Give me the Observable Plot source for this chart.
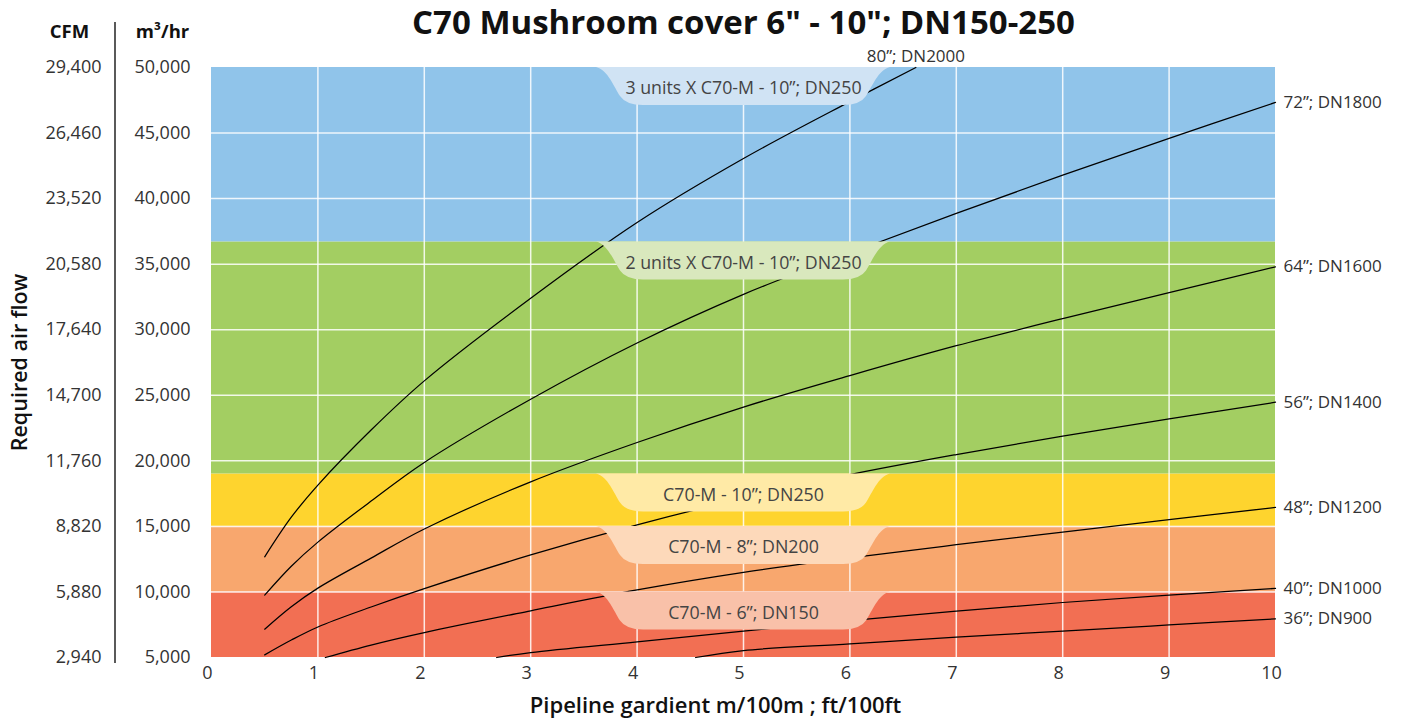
<!DOCTYPE html>
<html><head><meta charset="utf-8">
<script src="https://cdn.jsdelivr.net/npm/d3@7"></script>
<script src="https://cdn.jsdelivr.net/npm/@observablehq/plot@0.6"></script>
<style>body{margin:0;background:#fff;}</style>
</head><body><div id="chart"></div>
<script>
// ---- data ----
const title = 'C70 Mushroom cover 6" - 10"; DN150-250';
const xTitle = "Pipeline gardient m/100m ; ft/100ft";
const yTitle = "Required air flow";
const xTicks = [0,1,2,3,4,5,6,7,8,9,10];
const m3Ticks = [5000,10000,15000,20000,25000,30000,35000,40000,45000,50000];
const m3Labels = ["5,000","10,000","15,000","20,000","25,000","30,000","35,000","40,000","45,000","50,000"];
const cfmLabels = ["2,940","5,880","8,820","11,760","14,700","17,640","20,580","23,520","26,460","29,400"];
const gridX = [1,2,3,4,5,6,7,8,9];
const gridY = [10000,15000,20000,25000,30000,35000,40000,45000];

const bandLow   = [5000, 10000, 15000, 19000, 36700];
const bandHigh  = [10000, 15000, 19000, 36700, 50000];
const bandColor = ["#f26f53", "#f8a76e", "#fed42e", "#a3ce62", "#90c4ea"];
const tabLabels = ["C70-M - 6”; DN150", "C70-M - 8”; DN200", "C70-M - 10”; DN250",
                   "2 units X C70-M - 10”; DN250", "3 units X C70-M - 10”; DN250"];
const tabColor  = ["#f9c1a9", "#fdd9ba", "#ffeaa6", "#d9e8bd", "#d0e3f4"];
const tabX = 5;

const pipeNames = ["80”; DN2000","72”; DN1800","64”; DN1600","56”; DN1400","48”; DN1200","40”; DN1000","36”; DN900"];
const p80x = [0.5, 0.75, 1, 1.5, 2, 3, 4, 5, 6, 6.62];
const p80y = [12680, 15700, 18150, 22350, 26100, 32400, 38180, 43060, 47400, 50000];
const p72x = [0.5, 0.75, 1, 1.5, 2, 3, 4, 5, 6, 7, 8, 9, 10];
const p72y = [9760, 11960, 13800, 16930, 19880, 24700, 28990, 32700, 35850, 38870, 41790, 44590, 47340];
const p64x = [0.5, 0.75, 1, 1.5, 2, 3, 4, 5, 6, 7, 8, 9, 10];
const p64y = [7160, 8870, 10290, 12580, 14800, 18400, 21400, 24100, 26500, 28780, 30850, 32830, 34800];
const p56x = [0.5, 0.75, 1, 1.5, 2, 3, 4, 5, 6, 7, 8, 9, 10];
const p56y = [5200, 6330, 7330, 8850, 10250, 12820, 15120, 17150, 18950, 20480, 21880, 23200, 24470];
const p48x = [1.07, 1.5, 2, 3, 4, 5, 6, 7, 8, 9, 10];
const p48y = [5000, 5950, 6900, 8560, 10150, 11490, 12600, 13600, 14560, 15510, 16450];
const p40x = [2.68, 3, 4, 5, 6, 7, 8, 9, 10];
const p40y = [5000, 5380, 6200, 7010, 7810, 8540, 9195, 9755, 10270];
const p36x = [4.55, 5, 6, 7, 8, 9, 10];
const p36y = [5000, 5530, 6040, 6550, 7010, 7480, 7950];

// ---- build tables ----
const seriesX = [p80x,p72x,p64x,p56x,p48x,p40x,p36x];
const seriesY = [p80y,p72y,p64y,p56y,p48y,p40y,p36y];
const lines = [];
seriesX.forEach((xs,i)=> xs.forEach((x,j)=> lines.push({name: pipeNames[i], x, y: seriesY[i][j]})));
const ends = seriesX.map((xs,i)=>({name: pipeNames[i], x: xs[xs.length-1], y: seriesY[i][seriesY[i].length-1]}));
const bands = bandLow.map((lo,i)=>({lo, hi: bandHigh[i], color: bandColor[i]}));
const tabs = bandHigh.map((hi,i)=>({top: hi, label: tabLabels[i], color: tabColor[i]}));
const yTickData = m3Ticks.map((v,i)=>({v, m3: m3Labels[i], cfm: cfmLabels[i]}));

const FONT = "'Open Sans', sans-serif";
const TXT = "#333";

// tab shapes (decorative label backgrounds), anchored through the scales
function tabMark(index, scales) {
  const g = d3.create("svg:g");
  for (const t of tabs) {
    const cx = scales.x(tabX), ty = scales.y(t.top), h = 38;
    const p = d3.path();
    p.moveTo(cx-147, ty);
    p.bezierCurveTo(cx-135, ty+3, cx-129, ty+20, cx-123, ty+29);
    p.quadraticCurveTo(cx-117, ty+h, cx-100, ty+h);
    p.lineTo(cx+100, ty+h);
    p.quadraticCurveTo(cx+117, ty+h, cx+123, ty+29);
    p.bezierCurveTo(cx+129, ty+20, cx+135, ty+3, cx+147, ty);
    p.closePath();
    g.append("path").attr("d", p.toString()).attr("fill", t.color);
  }
  return g.node();
}
// separator rule between the CFM and m3/hr columns
function separatorMark(index, scales, values, dims) {
  const x = dims.marginLeft - 96;
  return d3.create("svg:line").attr("x1", x).attr("x2", x)
    .attr("y1", dims.marginTop - 45).attr("y2", dims.height - dims.marginBottom + 6)
    .attr("stroke", "#000").attr("stroke-width", 1.3).node();
}

const chart = Plot.plot({
  width: 1405, height: 722,
  marginTop: 67, marginBottom: 65, marginLeft: 211, marginRight: 130,
  style: {fontFamily: FONT, background: "#fff"},
  x: {domain: [0, 10], axis: null},
  y: {domain: [5000, 50000], axis: null},
  marks: [
    Plot.rect(bands, {x1: 0, x2: 10, y1: "lo", y2: "hi", fill: "color"}),
    Plot.ruleX(gridX, {stroke: "#fff", strokeOpacity: 0.85, strokeWidth: 1.5}),
    Plot.ruleY(gridY, {stroke: "#fff", strokeOpacity: 0.85, strokeWidth: 1.5}),
    Plot.line(lines, {x: "x", y: "y", z: "name", stroke: "#000", strokeWidth: 1.25, curve: "catmull-rom"}),
    tabMark,
    Plot.text(tabs, {x: tabX, y: "top", text: "label", dy: 21, fill: "#444", fontSize: 17.8, lineAnchor: "middle"}),
    Plot.text(ends.slice(1), {x: "x", y: "y", text: "name", dx: 8, textAnchor: "start", fill: TXT, fontSize: 17, lineAnchor: "middle"}),
    Plot.text(ends.slice(0,1), {x: "x", y: "y", text: "name", dy: -11, textAnchor: "middle", fill: TXT, fontSize: 17, lineAnchor: "middle"}),
    // x tick labels
    Plot.text(xTicks, {x: d => d, frameAnchor: "bottom", dy: 16, dx: -4, text: d => String(d), fill: TXT, fontSize: 18, lineAnchor: "middle"}),
    // y tick labels (m3/hr and CFM)
    Plot.text(yTickData, {y: "v", frameAnchor: "left", dx: -21, textAnchor: "end", text: "m3", fill: TXT, fontSize: 18, lineAnchor: "middle"}),
    Plot.text(yTickData, {y: "v", frameAnchor: "left", dx: -110, textAnchor: "end", text: "cfm", fill: TXT, fontSize: 18, lineAnchor: "middle"}),
    separatorMark,
    // column headers
    Plot.text(["CFM"], {frameAnchor: "top-left", dx: -142, dy: -35, text: d => d, textAnchor: "middle", lineAnchor: "middle", fontWeight: "bold", fontSize: 18.5, fill: "#111"}),
    Plot.text(["m³/hr"], {frameAnchor: "top-left", dx: -49, dy: -35, text: d => d, textAnchor: "middle", lineAnchor: "middle", fontWeight: "bold", fontSize: 18.5, fill: "#111"}),
    // titles
    Plot.text([title], {frameAnchor: "top", dx: 0, dy: -44, text: d => d, lineAnchor: "middle", fontWeight: "bold", fontSize: 33, fill: "#111"}),
    Plot.text([xTitle], {frameAnchor: "bottom", dx: -28, dy: 48, text: d => d, lineAnchor: "middle", fontWeight: 600, fontSize: 22, fill: "#111"}),
    Plot.text([yTitle], {frameAnchor: "left", dx: -191, rotate: -90, text: d => d, textAnchor: "middle", lineAnchor: "middle", fontWeight: 600, fontSize: 21.5, fill: "#111"})
  ]
});
document.getElementById("chart").append(chart);
</script>
</body></html>
